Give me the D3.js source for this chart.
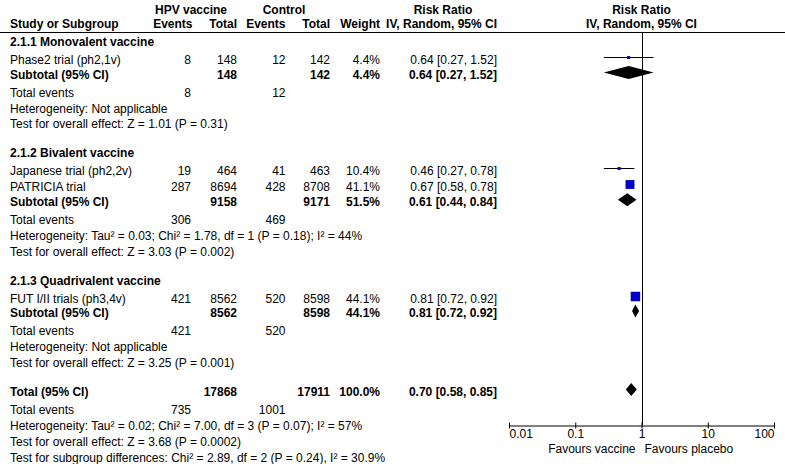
<!DOCTYPE html>
<html>
<head>
<meta charset="utf-8">
<script src="https://cdn.jsdelivr.net/npm/d3@7"></script>
<style>
  body { margin: 0; background: #fff; }
  svg text { font-family: Arial, "Liberation Sans", sans-serif; font-size: 12px; fill: #000; }
  .b { font-weight: bold; }
</style>
</head>
<body>
<svg id="canvas" width="785" height="464"></svg>
<script>
// ---- data ----
var groupNames = ["2.1.1 Monovalent vaccine", "2.1.2 Bivalent vaccine", "2.1.3 Quadrivalent vaccine"];
var groupVacEvents = [8, 306, 421];
var groupVacTotal = [148, 9158, 8562];
var groupCtlEvents = [12, 469, 520];
var groupCtlTotal = [142, 9171, 8598];
var groupWeight = ["4.4%", "51.5%", "44.1%"];
var groupRR = [0.64, 0.61, 0.81];
var groupLo = [0.27, 0.44, 0.72];
var groupHi = [1.52, 0.84, 0.92];
var groupHet = [
  "Heterogeneity: Not applicable",
  "Heterogeneity: Tau\u00b2 = 0.03; Chi\u00b2 = 1.78, df = 1 (P = 0.18); I\u00b2 = 44%",
  "Heterogeneity: Not applicable"
];
var groupTest = [
  "Test for overall effect: Z = 1.01 (P = 0.31)",
  "Test for overall effect: Z = 3.03 (P = 0.002)",
  "Test for overall effect: Z = 3.25 (P = 0.001)"
];

var studyNames = ["Phase2 trial (ph2,1v)", "Japanese trial (ph2,2v)", "PATRICIA trial", "FUT I/II trials (ph3,4v)"];
var studyGroup = [0, 1, 1, 2];
var studyVacEvents = [8, 19, 287, 421];
var studyVacTotal = [148, 464, 8694, 8562];
var studyCtlEvents = [12, 41, 428, 520];
var studyCtlTotal = [142, 463, 8708, 8598];
var studyWeight = [4.4, 10.4, 41.1, 44.1];
var studyRR = [0.64, 0.46, 0.67, 0.81];
var studyLo = [0.27, 0.27, 0.58, 0.72];
var studyHi = [1.52, 0.78, 0.78, 0.92];

var totalVacEvents = 735, totalCtlEvents = 1001;
var totalVacN = 17868, totalCtlN = 17911, totalWeight = "100.0%";
var totalRR = 0.70, totalLo = 0.58, totalHi = 0.85;
var totalHet = "Heterogeneity: Tau\u00b2 = 0.02; Chi\u00b2 = 7.00, df = 3 (P = 0.07); I\u00b2 = 57%";
var totalTest = "Test for overall effect: Z = 3.68 (P = 0.0002)";
var subgroupTest = "Test for subgroup differences: Chi\u00b2 = 2.89, df = 2 (P = 0.24), I\u00b2 = 30.9%";

var axisTicks = [0.01, 0.1, 1, 10, 100];
var axisLabels = ["0.01", "0.1", "1", "10", "100"];
var favours = ["Favours vaccine", "Favours placebo"];

// ---- layout ----
var svg = d3.select('#canvas');
var col = { name: 10, vE: 191, vN: 237, cE: 285.5, cN: 330, w: 380, rr: 497 };
var x = d3.scaleLog().domain([0.01, 100]).range([509, 774]);
var sq = d3.scaleLinear().domain([0, 44.1]).range([0, 9.5]);
var fmt = d3.format(".2f");
var ciText = function(r, l, h){ return fmt(r) + " [" + fmt(l) + ", " + fmt(h) + "]"; };

// build rows
var rows = [];
groupNames.forEach(function(g, gi){
  rows.push({ type: 'title', text: g });
  studyNames.forEach(function(s, si){
    if(studyGroup[si] === gi) rows.push({ type: 'study', i: si });
  });
  rows.push({ type: 'subtotal', i: gi });
  rows.push({ type: 'events', a: groupVacEvents[gi], b: groupCtlEvents[gi] });
  rows.push({ type: 'het', text: groupHet[gi] });
  rows.push({ type: 'test', text: groupTest[gi] });
});
rows.push({ type: 'total' });
rows.push({ type: 'events', a: totalVacEvents, b: totalCtlEvents });
rows.push({ type: 'het', text: totalHet });
rows.push({ type: 'test', text: totalTest });
rows.push({ type: 'test', text: subgroupTest });

var gapBefore = { title: 29, study: 16, subtotal: 14.5, events: 18, het: 16, test: 15.8, total: 29.5 };
var y = 46;
rows.forEach(function(r, i){
  if(i > 0){
    var g = gapBefore[r.type];
    if(r.type === 'study' && rows[i-1].type === 'title') g = 18;
    y += g;
  }
  r.y = y;
});

function txt(x0, y0, s, anchor, bold){
  var t = svg.append('text').attr('x', x0).attr('y', y0).text(s)
    .attr('text-anchor', anchor || 'start');
  if(bold) t.attr('class', 'b');
  return t;
}

// ---- header ----
txt(191, 13.5, "HPV vaccine", 'middle', true);
txt(284, 13.5, "Control", 'middle', true);
txt(443, 13.5, "Risk Ratio", 'middle', true);
txt(x(1), 13.5, "Risk Ratio", 'middle', true);
txt(col.name, 28, "Study or Subgroup", 'start', true);
txt(192.5, 28, "Events", 'end', true);
txt(col.vN, 28, "Total", 'end', true);
txt(col.cE, 28, "Events", 'end', true);
txt(col.cN, 28, "Total", 'end', true);
txt(col.w, 28, "Weight", 'end', true);
txt(col.rr, 28, "IV, Random, 95% CI", 'end', true);
txt(x(1), 28, "IV, Random, 95% CI", 'middle', true);

svg.append('line').attr('x1', 0).attr('x2', 785).attr('y1', 32.5).attr('y2', 32.5)
  .attr('stroke', '#000').attr('stroke-width', 1);

// line of no effect
var axisY = 425.5;
svg.append('line').attr('x1', Math.round(x(1)) + 0.5).attr('x2', Math.round(x(1)) + 0.5)
  .attr('y1', 32).attr('y2', axisY).attr('stroke', '#000');

// ---- rows ----
var marks = svg.append('g');
function diamond(r, l, h, yc){
  var hh = 6.5;
  marks.append('path')
    .attr('d', 'M' + x(l) + ',' + yc + 'L' + x(r) + ',' + (yc - hh) + 'L' + x(h) + ',' + yc + 'L' + x(r) + ',' + (yc + hh) + 'Z')
    .attr('fill', '#000');
}

rows.forEach(function(r){
  if(r.type === 'title'){
    txt(col.name, r.y, r.text, 'start', true);
  } else if(r.type === 'study'){
    var i = r.i;
    txt(col.name, r.y, studyNames[i]);
    txt(col.vE, r.y, studyVacEvents[i], 'end');
    txt(col.vN, r.y, studyVacTotal[i], 'end');
    txt(col.cE, r.y, studyCtlEvents[i], 'end');
    txt(col.cN, r.y, studyCtlTotal[i], 'end');
    txt(col.w, r.y, studyWeight[i].toFixed(1) + "%", 'end');
    txt(col.rr, r.y, ciText(studyRR[i], studyLo[i], studyHi[i]), 'end');
    var yc = r.y - 7;
    marks.append('line').attr('x1', x(studyLo[i])).attr('x2', x(studyHi[i]))
      .attr('y1', Math.round(yc) + 0.5).attr('y2', Math.round(yc) + 0.5).attr('stroke', '#000');
    var s = Math.max(3, sq(studyWeight[i]));
    marks.append('rect').attr('x', x(studyRR[i]) - s / 2).attr('y', Math.round(yc) + 0.5 - s / 2)
      .attr('width', s).attr('height', s).attr('fill', '#0000c8');
  } else if(r.type === 'subtotal'){
    var g = r.i;
    txt(col.name, r.y, "Subtotal (95% CI)", 'start', true);
    txt(col.vN, r.y, groupVacTotal[g], 'end', true);
    txt(col.cN, r.y, groupCtlTotal[g], 'end', true);
    txt(col.w, r.y, groupWeight[g], 'end', true);
    txt(col.rr, r.y, ciText(groupRR[g], groupLo[g], groupHi[g]), 'end', true);
    diamond(groupRR[g], groupLo[g], groupHi[g], r.y - 6);
  } else if(r.type === 'events'){
    txt(col.name, r.y, "Total events");
    txt(col.vE, r.y, r.a, 'end');
    txt(col.cE, r.y, r.b, 'end');
  } else if(r.type === 'het' || r.type === 'test'){
    txt(col.name, r.y, r.text);
  } else if(r.type === 'total'){
    txt(col.name, r.y, "Total (95% CI)", 'start', true);
    txt(col.vN, r.y, totalVacN, 'end', true);
    txt(col.cN, r.y, totalCtlN, 'end', true);
    txt(col.w, r.y, totalWeight, 'end', true);
    txt(col.rr, r.y, ciText(totalRR, totalLo, totalHi), 'end', true);
    diamond(totalRR, totalLo, totalHi, r.y - 7);
  }
});

// ---- axis ----
var axisG = svg.append('g').attr('transform', 'translate(0,' + axisY + ')');
axisG.call(d3.axisBottom(x).tickValues(axisTicks).tickFormat(function(d, i){ return axisLabels[i]; })
  .tickSizeOuter(0).tickSizeInner(3));
axisG.select('.domain').attr('stroke', '#000');
axisG.selectAll('.tick line').attr('y1', -3).attr('y2', 3).attr('stroke', '#000');
axisG.selectAll('.tick text').attr('y', 12).attr('dy', 0)
  .attr('text-anchor', function(d, i){ return i === 0 ? 'start' : (i === axisTicks.length - 1 ? 'end' : 'middle'); })
  .style('font-family', 'Arial, "Liberation Sans", sans-serif').style('font-size', '12px').attr('fill', '#000');

txt(x(1) - 6, 453, favours[0], 'end');
txt(x(1) + 3, 453, favours[1], 'start');
</script>
</body>
</html>
